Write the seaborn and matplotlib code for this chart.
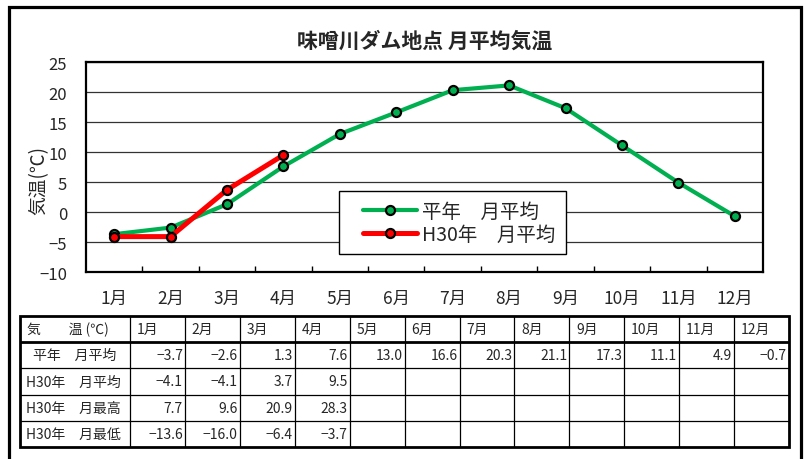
import matplotlib
matplotlib.use("Agg")
import matplotlib.pyplot as plt
from matplotlib.patches import Rectangle
from matplotlib.legend_handler import HandlerLine2D
import seaborn as sns

# ---------------- data ----------------
months = ['1月', '2月', '3月', '4月', '5月', '6月', '7月', '8月', '9月', '10月', '11月', '12月']
heinen_avg = [-3.7, -2.6, 1.3, 7.6, 13.0, 16.6, 20.3, 21.1, 17.3, 11.1, 4.9, -0.7]
h30_avg = [-4.1, -4.1, 3.7, 9.5]
h30_max = [7.7, 9.6, 20.9, 28.3]
h30_min = [-13.6, -16.0, -6.4, -3.7]

title = '味噌川ダム地点 月平均気温'
ylabel = '気温(℃)'
label_heinen = '平年　月平均'
label_h30 = 'H30年　月平均'
table_header0 = '気　　温 (℃)'
row_labels = ['平年　月平均', 'H30年　月平均', 'H30年　月最高', 'H30年　月最低']
yticks = [-10, -5, 0, 5, 10, 15, 20, 25]

GREEN = '#00B050'
RED = '#FF0000'

sns.set_style('white')
plt.rcParams['font.family'] = ['Noto Sans CJK JP', 'DejaVu Sans']
plt.rcParams['axes.unicode_minus'] = True

W, H = 811, 460
fig = plt.figure(figsize=(W / 100, H / 100), dpi=100)


def rect(l, t, r, b):
    return [l / W, 1 - b / H, (r - l) / W, (b - t) / H]


# outer border (open at the bottom)
fig.add_artist(Rectangle((9 / W, -0.1), (801 - 9) / W, 1.1 - 8 / H,
                         transform=fig.transFigure, fill=False,
                         edgecolor='black', linewidth=2.3, clip_on=False))

# ---------------- chart ----------------
ax = fig.add_axes(rect(86, 63, 763, 273))
sns.lineplot(x=months, y=heinen_avg, ax=ax, sort=False, color=GREEN,
             linewidth=3.0, marker='o', markersize=6.5, markerfacecolor=GREEN,
             markeredgecolor='black', markeredgewidth=1.6, label=label_heinen)
sns.lineplot(x=months[:len(h30_avg)], y=h30_avg, ax=ax, sort=False, color=RED,
             linewidth=3.6, marker='o', markersize=6.5, markerfacecolor=RED,
             markeredgecolor='black', markeredgewidth=1.6, label=label_h30)

ax.set_xlim(-0.5, len(months) - 0.5)
ax.set_ylim(-10, 25)
ax.set_yticks(yticks)
ax.set_yticklabels([str(v).replace('-', '−') for v in yticks], fontsize=12)
ax.set_xticks(range(len(months)))
ax.set_xticklabels(months, fontsize=12.5)
ax.set_xticks([i + 0.5 for i in range(len(months) - 1)], minor=True)
ax.tick_params(axis='x', which='major', length=0, pad=12)
ax.tick_params(axis='x', which='minor', direction='in', length=4, width=1, color='black', bottom=True)
ax.tick_params(axis='y', length=0, pad=13.5)
ax.grid(axis='y', color='#333333', linewidth=0.9)
ax.grid(axis='x', visible=False)
ax.set_axisbelow(True)
for s in ax.spines.values():
    s.set_visible(True)
    s.set_color('black')
    s.set_linewidth(1.6)
ax.set_xlabel('')
ax.set_ylabel(ylabel, fontsize=13.5)
ax.yaxis.set_label_coords(-0.054, 0.44)
ax.set_title(title, fontsize=15, fontweight='bold', pad=11)

h, l = ax.get_legend_handles_labels()
leg = ax.legend(h, l, loc='upper left', bbox_to_anchor=(0.374, 0.386),
                borderaxespad=0, fontsize=14, frameon=True, fancybox=False,
                framealpha=1, edgecolor='black', handlelength=3.5,
                handletextpad=0.28, labelspacing=0.1, borderpad=0.5,
                handler_map={type(h[0]): HandlerLine2D(xpad=0.72)})
leg.get_frame().set_linewidth(1.0)

# ---------------- table ----------------
tax = fig.add_axes(rect(20, 317, 789, 448))
TW, TH = 769, 131
first_w = 110
col_w = (TW - first_w) / len(months)
col_edges = [0, first_w] + [first_w + col_w * (i + 1) for i in range(len(months))]
row_h = TH / 5
row_edges = [row_h * i for i in range(6)]
tax.set_xlim(0, TW)
tax.set_ylim(TH, 0)
tax.axis('off')

tax.vlines(col_edges[1:-1], 0, TH, color='black', linewidth=0.9)
tax.hlines(row_edges[2:-1], 0, TW, color='black', linewidth=0.9)
tax.hlines(row_edges[1], 0, TW, color='black', linewidth=2.0)
tax.add_patch(Rectangle((0, 0), TW, TH, fill=False, edgecolor='black', linewidth=2.0, clip_on=False))

FS = 10
tax.text(7, row_h * 0.5, table_header0, ha='left', va='center', fontsize=FS)
for i, m in enumerate(months):
    tax.text(col_edges[i + 1] + 7, row_h * 0.5, m, ha='left', va='center', fontsize=FS)


def fmt(v):
    return f'{v:.1f}'.replace('-', '−')


rows = [heinen_avg, h30_avg, h30_max, h30_min]
for r, (lab, vals) in enumerate(zip(row_labels, rows)):
    yc = row_h * (r + 1.5)
    if r == 0:
        tax.text(first_w / 2, yc, lab, ha='center', va='center', fontsize=FS)
    else:
        tax.text(6, yc, lab, ha='left', va='center', fontsize=FS)
    for i, v in enumerate(vals):
        tax.text(col_edges[i + 2] - 2, yc, fmt(v), ha='right', va='center', fontsize=FS)

fig.savefig('out.png', dpi=100)
